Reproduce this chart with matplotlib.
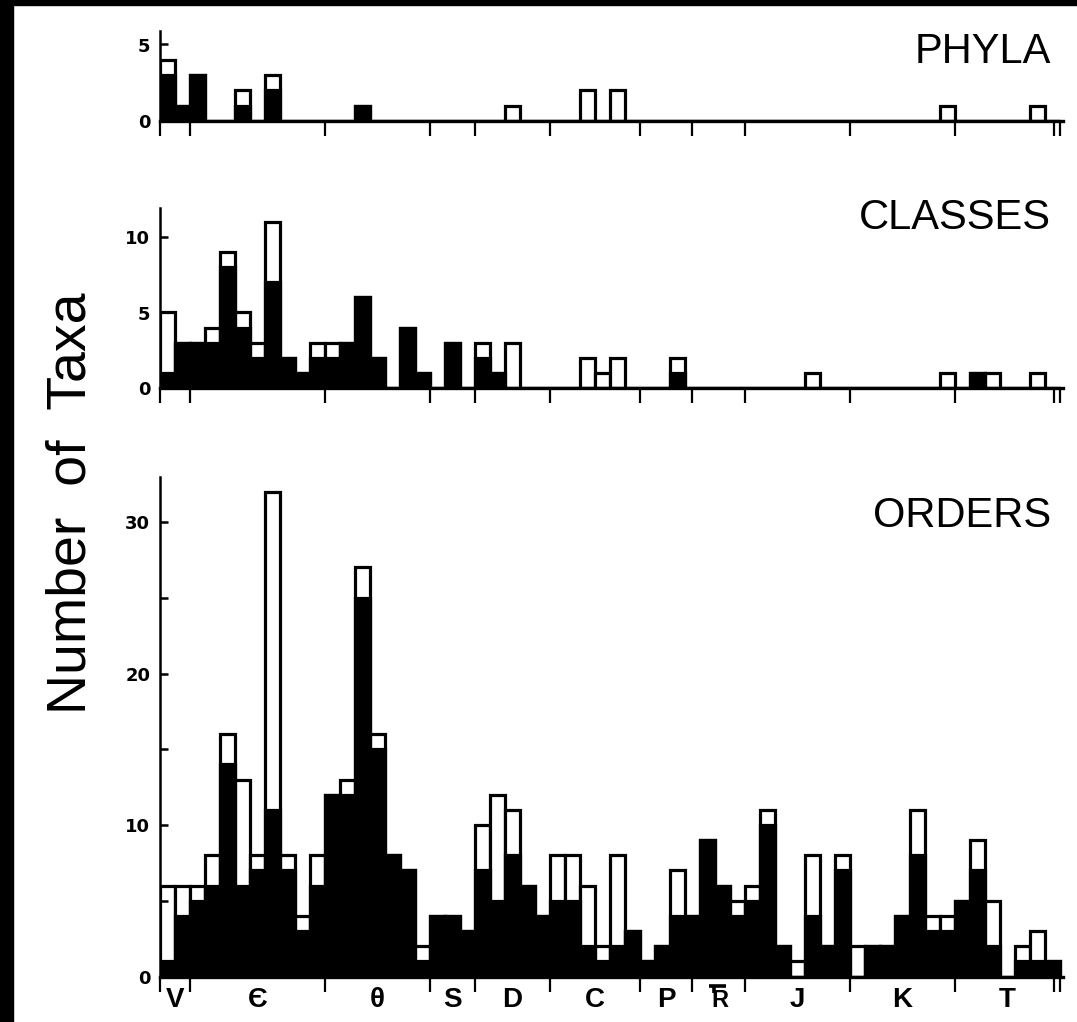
import matplotlib.pyplot as plt
from matplotlib.patches import Rectangle

plt.rcParams['font.family'] = ['Liberation Sans', 'DejaVu Sans']

# period boundaries, in stage bins from the base of the Vendian
boundaries = [0, 2, 11, 18, 21, 26, 32, 35.5, 39, 46, 53, 60]
period_labels = ['V', 'Є', 'θ', 'S', 'D', 'C', 'P', 'TR', 'J', 'K', 'T']

# first appearances per stage: total (outline) and the filled part
phyla_total = [4, 1, 3, 0, 0, 2, 0, 3, 0, 0,
               0, 0, 0, 1, 0, 0, 0, 0, 0, 0,
               0, 0, 0, 1, 0, 0, 0, 0, 2, 0,
               2, 0, 0, 0, 0, 0, 0, 0, 0, 0,
               0, 0, 0, 0, 0, 0, 0, 0, 0, 0,
               0, 0, 1, 0, 0, 0, 0, 0, 1, 0]
phyla_black = [3, 1, 3, 0, 0, 1, 0, 2, 0, 0,
               0, 0, 0, 1, 0, 0, 0, 0, 0, 0,
               0, 0, 0, 0, 0, 0, 0, 0, 0, 0,
               0, 0, 0, 0, 0, 0, 0, 0, 0, 0,
               0, 0, 0, 0, 0, 0, 0, 0, 0, 0,
               0, 0, 0, 0, 0, 0, 0, 0, 0, 0]

classes_total = [5, 3, 3, 4, 9, 5, 3, 11, 2, 1,
                 3, 3, 3, 6, 2, 0, 4, 1, 0, 3,
                 0, 3, 1, 3, 0, 0, 0, 0, 2, 1,
                 2, 0, 0, 0, 2, 0, 0, 0, 0, 0,
                 0, 0, 0, 1, 0, 0, 0, 0, 0, 0,
                 0, 0, 1, 0, 1, 1, 0, 0, 1, 0]
classes_black = [1, 3, 3, 3, 8, 4, 2, 7, 2, 1,
                 2, 2, 3, 6, 2, 0, 4, 1, 0, 3,
                 0, 2, 1, 0, 0, 0, 0, 0, 0, 0,
                 0, 0, 0, 0, 1, 0, 0, 0, 0, 0,
                 0, 0, 0, 0, 0, 0, 0, 0, 0, 0,
                 0, 0, 0, 0, 1, 0, 0, 0, 0, 0]

orders_total = [6, 6, 6, 8, 16, 13, 8, 32, 8, 4,
                8, 12, 13, 27, 16, 8, 7, 2, 4, 4,
                3, 10, 12, 11, 6, 4, 8, 8, 6, 2,
                8, 3, 1, 2, 7, 4, 9, 6, 5, 6,
                11, 2, 1, 8, 2, 8, 2, 2, 2, 4,
                11, 4, 4, 5, 9, 5, 0, 2, 3, 1]
orders_black = [1, 4, 5, 6, 14, 6, 7, 11, 7, 3,
                6, 12, 12, 25, 15, 8, 7, 1, 4, 4,
                3, 7, 5, 8, 6, 4, 5, 5, 2, 1,
                2, 3, 1, 2, 4, 4, 9, 6, 4, 5,
                10, 2, 0, 4, 2, 7, 0, 2, 2, 4,
                8, 3, 3, 5, 7, 2, 0, 1, 1, 1]

W, H = 1077, 1022
X_LEFT, X_RIGHT = 160, 1063
XMAX = 60.2

fig = plt.figure(figsize=(W / 100, H / 100), dpi=100)


def panel(base, unit, ytop, total, black, title, title_base, yticks, ylabels, minor=()):
    ax = fig.add_axes([X_LEFT / W, 1 - base / H, (X_RIGHT - X_LEFT) / W, unit * ytop / H])
    bins = list(range(len(total)))
    ax.bar(bins, total, width=1, align='edge', color='white',
           edgecolor='black', linewidth=2.3)
    ax.bar(bins, black, width=1, align='edge', color='black',
           edgecolor='black', linewidth=2.3)
    ax.set_xlim(0, XMAX)
    ax.set_ylim(0, ytop)
    ax.spines['top'].set_visible(False)
    ax.spines['right'].set_visible(False)
    ax.spines['left'].set_linewidth(1.8)
    ax.spines['bottom'].set_linewidth(2.4)
    ax.set_xticks(boundaries + [59.6])
    ax.tick_params(axis='x', direction='out', length=11, width=1.6, labelbottom=False)
    ax.set_yticks(yticks, ylabels, fontweight='bold', family='DejaVu Sans', fontsize=13)
    ax.set_yticks(list(minor), minor=True)
    ax.tick_params(axis='y', which='both', direction='in', length=6, width=1.8, pad=7)
    fig.text(1051 / W, 1 - title_base / H, title, ha='right', va='baseline', fontsize=30)
    return ax


panel(121, 15.3, 5.9, phyla_total, phyla_black, 'PHYLA', 63, [0, 5], ['0', '5'])
panel(388.3, 15.16, 11.9, classes_total, classes_black, 'CLASSES', 229,
      [0, 5, 10], ['0', '5', '10'])
ax = panel(976.5, 15.15, 33, orders_total, orders_black, 'ORDERS', 527,
           [0, 10, 20, 30], ['0', '10', '20', '30'], minor=[5, 15, 25])

# period symbols centred between the boundary ticks
for i, lab in enumerate(period_labels):
    mid = (boundaries[i] + boundaries[i + 1]) / 2
    if lab == 'TR':
        # Triassic: R under a T-bar
        ax.text(mid + 0.1, -2.0, 'R', ha='center', va='baseline', fontsize=17,
                fontweight='bold', clip_on=False)
        ax.plot([mid - 0.65, mid + 0.45], [-0.62, -0.62], color='black',
                lw=2.6, solid_capstyle='butt', clip_on=False)
        ax.plot([mid - 0.3, mid - 0.3], [-0.62, -1.1], color='black',
                lw=2.6, solid_capstyle='butt', clip_on=False)
    else:
        ax.text(mid, -2.0, lab, ha='center', va='baseline', fontsize=20,
                fontweight='bold', clip_on=False)

fig.text(72 / W, 1 - 503 / H, 'Number  of  Taxa', rotation=90, ha='center',
         va='center', fontsize=40)

# dark scan edges along the left and top
fig.patches.append(Rectangle((0, 0), 13 / W, 1, transform=fig.transFigure,
                             color='black', zorder=10))
fig.patches.append(Rectangle((0, 1 - 5 / H), 1, 5 / H, transform=fig.transFigure,
                             color='black', zorder=10))

fig.savefig('out.png', dpi=100)
